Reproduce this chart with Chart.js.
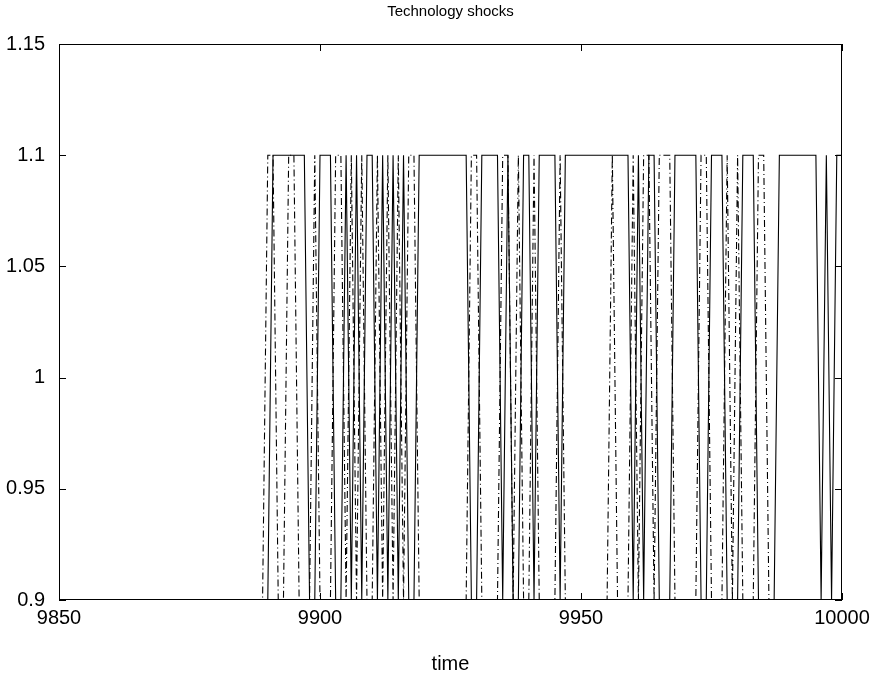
<!DOCTYPE html>
<html>
<head>
<meta charset="utf-8">
<script src="https://cdn.jsdelivr.net/npm/chart.js@4/dist/chart.umd.min.js"></script>
<style>
  html, body { margin: 0; padding: 0; background: #fff; }
</style>
</head>
<body>
<canvas id="chart" width="875" height="681"></canvas>
<script>
// time axis: flat at 0.9 from 9850, then one value per period from 9889 to 10000
var flatStart = 9850
var firstPeriod = 9889
var xTicks = [9850, 9900, 9950, 10000]
var yTicks = [0.9, 0.95, 1, 1.05, 1.1, 1.15]
var chartTitle = 'Technology shocks'
var xLabel = 'time'

// solid series, t = 9889 .. 10000
var shockSolid = [
  0.9, 0.9, 1.1, 1.1, 1.1, 1.1, 1.1, 1.1, 1.1, 0.9,
  0.9, 1.1, 1.1, 1.1, 0.9, 0.9, 1.1, 0.9, 1.1, 0.9,
  1.1, 1.1, 0.9, 1.1, 0.9, 1.1, 0.9, 1.1, 0.9, 0.9,
  1.1, 1.1, 1.1, 1.1, 1.1, 1.1, 1.1, 1.1, 1.1, 1.1,
  0.9, 0.9, 1.1, 1.1, 1.1, 1.1, 0.9, 1.1, 0.9, 0.9,
  1.1, 1.1, 0.9, 1.1, 1.1, 1.1, 1.1, 0.9, 1.1, 1.1,
  1.1, 1.1, 1.1, 1.1, 1.1, 1.1, 1.1, 1.1, 1.1, 1.1,
  1.1, 0.9, 1.1, 0.9, 1.1, 1.1, 0.9, 0.9, 0.9, 1.1,
  1.1, 1.1, 1.1, 1.1, 0.9, 0.9, 1.1, 1.1, 1.1, 0.9,
  0.9, 0.9, 1.1, 1.1, 1.1, 0.9, 0.9, 0.9, 0.9, 1.1,
  1.1, 1.1, 1.1, 1.1, 1.1, 1.1, 1.1, 0.9, 1.1, 0.9,
  1.1, 1.1
]

// dash-dot series, t = 9889 .. 10000
var shockDashDot = [
  0.9, 1.1, 1.1, 0.9, 0.9, 1.1, 1.1, 0.9, 0.9, 0.9,
  1.1, 0.9, 0.9, 0.9, 1.1, 1.1, 0.9, 1.1, 0.9, 1.1,
  0.9, 0.9, 1.1, 0.9, 1.1, 0.9, 1.1, 0.9, 1.1, 1.1,
  0.9, 0.9, 0.9, 0.9, 0.9, 0.9, 0.9, 0.9, 0.9, 0.9,
  1.1, 1.1, 0.9, 0.9, 0.9, 0.9, 1.1, 1.1, 0.9, 1.1,
  0.9, 0.9, 1.1, 0.9, 0.9, 0.9, 0.9, 1.1, 0.9, 0.9,
  0.9, 0.9, 0.9, 0.9, 0.9, 0.9, 0.9, 1.1, 0.9, 0.9,
  0.9, 1.1, 0.9, 1.1, 1.1, 0.9, 1.1, 1.1, 1.1, 0.9,
  0.9, 0.9, 0.9, 0.9, 1.1, 1.1, 0.9, 0.9, 0.9, 1.1,
  0.9, 1.1, 0.9, 0.9, 0.9, 1.1, 1.1, 0.9, 0.9, 0.9,
  0.9, 0.9, 0.9, 0.9, 0.9, 0.9, 0.9, 0.9, 0.9, 0.9,
  0.9, 0.9
]

var toPoints = function(values) {
  var pts = [{x: flatStart, y: values[0]}]
  for (var i = 0; i < values.length; i++) {
    pts.push({x: firstPeriod + i, y: values[i]})
  }
  return pts
}

var fontFamily = "'Liberation Sans', Arial, Helvetica, sans-serif"
var tickFont = {family: fontFamily, size: 20}

// matlab style box with inward ticks on all four sides, title centred over the axes
var boxPlugin = {
  id: 'boxPlugin',
  afterDraw: function(chart) {
    var ctx = chart.ctx
    var a = chart.chartArea
    var xs = chart.scales.x
    var ys = chart.scales.y
    var len = 7
    ctx.save()
    ctx.strokeStyle = '#000'
    ctx.lineWidth = 1
    ctx.strokeRect(a.left + 0.5, a.top + 0.5, a.right - a.left - 1, a.bottom - a.top - 1)
    ctx.beginPath()
    xTicks.forEach(function(v) {
      var px = Math.round(xs.getPixelForValue(v)) + 0.5
      ctx.moveTo(px, a.bottom); ctx.lineTo(px, a.bottom - len)
      ctx.moveTo(px, a.top); ctx.lineTo(px, a.top + len)
    })
    yTicks.forEach(function(v) {
      var py = Math.round(ys.getPixelForValue(v)) + 0.5
      ctx.moveTo(a.left, py); ctx.lineTo(a.left + len, py)
      ctx.moveTo(a.right, py); ctx.lineTo(a.right - len, py)
    })
    ctx.stroke()
    ctx.fillStyle = '#000'
    ctx.font = '15px ' + fontFamily
    ctx.textAlign = 'center'
    ctx.textBaseline = 'middle'
    ctx.fillText(chartTitle, (a.left + a.right) / 2, 12)
    ctx.restore()
  }
}

var canvas = document.getElementById('chart')
new Chart(canvas, {
  type: 'line',
  data: {
    datasets: [
      {
        data: toPoints(shockSolid),
        borderColor: '#000',
        borderWidth: 1.1,
        pointRadius: 0,
        tension: 0,
        fill: false
      },
      {
        data: toPoints(shockDashDot),
        borderColor: '#000',
        borderWidth: 1.1,
        borderDash: [7, 3, 1, 3],
        pointRadius: 0,
        tension: 0,
        fill: false
      }
    ]
  },
  options: {
    responsive: false,
    animation: false,
    devicePixelRatio: 1,
    layout: {padding: {left: 0, right: 33, top: 44, bottom: 0}},
    plugins: {
      legend: {display: false},
      tooltip: {enabled: false},
      title: {display: false}
    },
    scales: {
      x: {
        type: 'linear',
        min: 9850,
        max: 10000,
        afterBuildTicks: function(s) { s.ticks = xTicks.map(function(v) { return {value: v} }) },
        afterFit: function(s) { s.height = 81 },
        grid: {display: false},
        border: {display: false},
        ticks: {
          color: '#000', font: {family: fontFamily, size: 20, lineHeight: 1}, padding: 0,
          maxRotation: 0, autoSkip: false,
          callback: function(v) { return String(v) }
        },
        title: {display: true, text: xLabel, color: '#000', font: tickFont, padding: {top: 0, bottom: 5}}
      },
      y: {
        min: 0.9,
        max: 1.15,
        afterBuildTicks: function(s) { s.ticks = yTicks.map(function(v) { return {value: v} }) },
        afterFit: function(s) { s.width = 59 },
        grid: {display: false},
        border: {display: false},
        ticks: {
          color: '#000',
          font: tickFont,
          padding: 6,
          callback: function(v) { return String(+v.toFixed(2)) }
        }
      }
    }
  },
  plugins: [boxPlugin]
})
</script>
</body>
</html>
